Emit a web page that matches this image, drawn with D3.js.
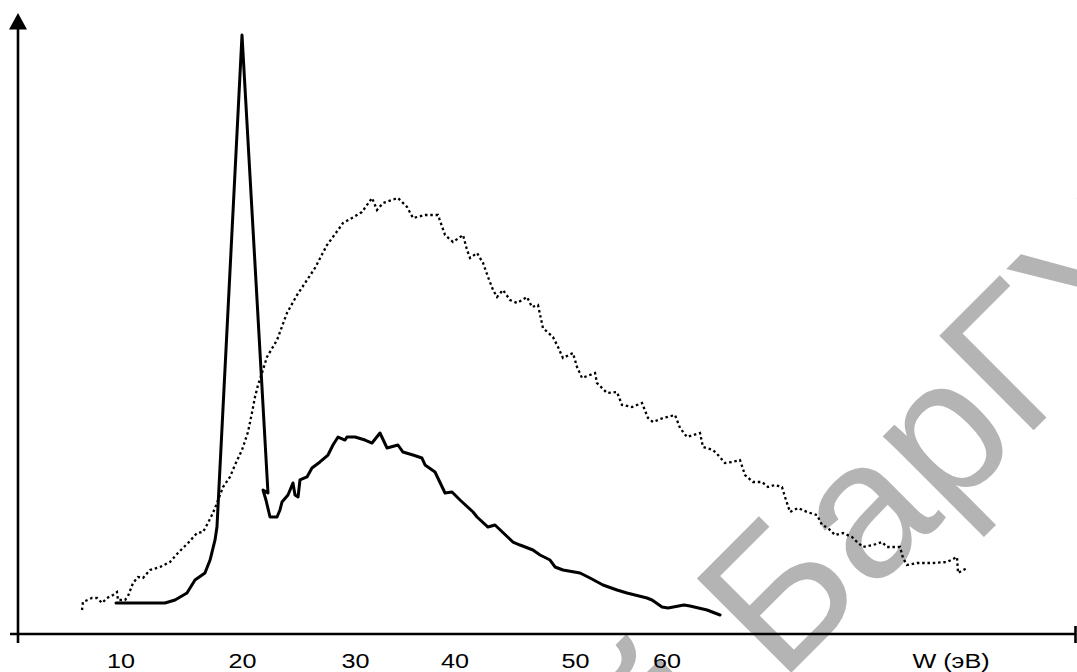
<!DOCTYPE html>
<html>
<head>
<meta charset="utf-8">
<script src="https://cdn.jsdelivr.net/npm/d3@7"></script>
<style>
  body { margin: 0; background: #fff; }
  svg { display: block; }
</style>
</head>
<body>
<div id="chart"></div>
<script>
// tick labels on the energy axis
const tickValues = [10, 20, 30, 40, 50, 60];
const axisTitle = "W (эВ)";
const watermark = ["Репозиторий\u00A0", "БарГУ"];

// solid curve: energy (eV), intensity (arb. units)
const solidW = [9.63, 13.66, 14.49, 15.47, 16.13, 16.95, 17.37, 17.78, 17.94, 20.0,
  22.30, 21.86, 22.12, 22.48, 23.10, 23.36, 23.54, 24.07, 24.51, 24.69,
  24.96, 25.13, 25.75, 26.19, 26.90, 27.61, 28.05, 28.50, 29.12, 29.29,
  30.0, 31.01, 31.71, 32.51, 33.22, 34.32, 34.82, 35.83, 36.73, 37.04,
  38.04, 39.05, 39.75, 40.46, 41.54, 41.87, 42.78, 43.36, 44.85, 45.44,
  46.51, 47.10, 47.93, 48.34, 49.00, 50.55, 51.64, 53.06, 54.59, 55.68,
  57.87, 58.42, 59.51, 60.16, 61.91, 62.57, 64.43, 65.85];
const solidI = [5.17, 5.17, 5.67, 6.83, 9.0, 10.17, 12.33, 15.67, 17.83, 99.83,
  23.5, 24.0, 22.33, 19.5, 19.5, 20.67, 22.0, 23.17, 25.17, 23.17,
  22.83, 25.67, 26.17, 27.67, 28.67, 29.83, 31.5, 32.83, 32.33, 32.83,
  32.83, 32.33, 31.83, 33.5, 31.0, 31.5, 30.33, 29.83, 29.33, 28.17,
  27.0, 23.5, 23.67, 22.33, 20.33, 19.5, 17.83, 18.17, 15.33, 14.83,
  14.0, 13.17, 12.33, 11.17, 10.67, 10.17, 9.33, 8.17, 7.33, 6.83,
  6.0, 5.67, 4.5, 4.33, 4.83, 4.67, 4.0, 3.17];

// dotted curve: energy (eV), intensity (arb. units)
const dottedW = [6.83, 6.91, 7.65, 8.07, 8.48, 8.89, 9.38, 9.71, 9.79, 10.37,
  10.62, 11.03, 11.44, 11.85, 12.43, 13.25, 14.07, 14.73, 15.56, 16.30,
  16.79, 17.20, 17.61, 17.94, 18.44, 19.01, 19.42, 20.0, 20.53, 20.88,
  21.15, 21.42, 21.77, 22.21, 23.10, 23.98, 24.87, 25.58, 26.46, 27.52,
  28.50, 28.94, 29.73, 30.70, 31.71, 32.21, 32.81, 34.32, 35.23, 35.83,
  37.04, 38.34, 39.05, 39.85, 40.71, 41.04, 41.29, 41.87, 42.37, 42.78,
  43.20, 43.53, 44.02, 44.61, 45.19, 46.02, 46.43, 46.93, 47.34, 48.17,
  48.59, 49.00, 49.83, 50.22, 50.77, 52.19, 52.40, 53.50, 54.59, 55.14,
  56.23, 57.32, 57.98, 58.52, 59.62, 60.93, 61.48, 62.24, 63.66, 63.99,
  65.08, 65.63, 66.39, 67.16, 68.03, 68.58, 69.45, 70.44, 71.09, 71.86,
  72.62, 72.95, 73.50, 74.37, 75.36, 76.45, 77.0, 77.65, 78.42, 79.29,
  80.27, 80.82, 81.48, 82.57, 83.55, 84.10, 85.52, 85.85, 86.28, 87.38,
  89.13, 90.66, 91.75, 91.86, 92.84];
const dottedI = [4.0, 5.33, 6.0, 6.0, 5.17, 6.0, 6.5, 7.0, 5.67, 5.67,
  6.33, 8.5, 9.5, 9.33, 10.67, 11.17, 12.0, 13.5, 15.17, 16.83,
  17.0, 18.5, 20.17, 21.83, 24.5, 26.17, 28.17, 30.67, 33.67, 36.83,
  39.5, 41.5, 43.5, 46.17, 49.0, 53.5, 56.5, 58.5, 61.0, 64.83,
  67.33, 68.5, 69.33, 70.33, 72.67, 70.67, 71.83, 72.67, 71.17, 69.33,
  69.83, 69.83, 66.5, 65.33, 66.5, 64.0, 62.67, 63.5, 61.83, 59.5,
  57.33, 56.17, 57.33, 55.67, 55.17, 56.17, 54.5, 54.83, 51.0, 49.5,
  47.83, 46.0, 46.83, 44.5, 42.67, 43.5, 41.83, 40.17, 40.33, 38.17,
  37.83, 38.5, 36.0, 35.33, 36.0, 36.5, 34.33, 32.83, 33.5, 31.17,
  30.67, 29.83, 28.5, 28.67, 29.0, 26.5, 25.33, 25.33, 24.5, 24.83,
  24.5, 22.83, 20.33, 21.0, 20.33, 19.83, 18.17, 17.67, 16.5, 16.83,
  16.17, 15.33, 14.5, 14.83, 15.33, 14.5, 14.5, 12.67, 11.5, 11.83,
  11.83, 12.0, 12.83, 10.17, 11.0];

// layout
const width = 1077, height = 672;
const tickPos = [120.5, 242, 355, 454.5, 575, 666.5];
const axisX = 18, axisY = 634;
const font = "'Liberation Sans', Arial, sans-serif";

const svg = d3.select("#chart").append("svg")
  .attr("width", width)
  .attr("height", height);

svg.append("rect").attr("width", width).attr("height", height).attr("fill", "#fff");

// watermark behind the chart
const wm = svg.append("g")
  .attr("transform", "translate(780,684) rotate(-45)")
  .style("font-family", font)
  .style("font-size", "194px")
  .attr("fill", "#b4b4b4");
wm.append("text").attr("text-anchor", "end").text(watermark[0]);
wm.append("text").attr("text-anchor", "start").text(watermark[1]);

const x = d3.scaleLinear().domain(tickValues).range(tickPos);
const y = d3.scaleLinear().domain([0, 100]).range([axisY, 34]);

// axes lines
svg.append("line")
  .attr("x1", 10).attr("x2", width - 1)
  .attr("y1", axisY).attr("y2", axisY)
  .attr("stroke", "#000").attr("stroke-width", 2.6);
svg.append("line")
  .attr("x1", width - 1.5).attr("x2", width - 1.5)
  .attr("y1", axisY - 8).attr("y2", axisY + 9)
  .attr("stroke", "#000").attr("stroke-width", 2.6);
svg.append("line")
  .attr("x1", axisX).attr("x2", axisX)
  .attr("y1", axisY + 9).attr("y2", 28)
  .attr("stroke", "#000").attr("stroke-width", 2.6);
svg.append("path")
  .attr("d", `M${axisX},13 L${axisX - 9},29.5 L${axisX + 9},29.5 Z`)
  .attr("fill", "#000");

// tick labels
const xAxis = svg.append("g")
  .attr("transform", `translate(0,${axisY})`)
  .call(d3.axisBottom(x).tickValues(tickValues).tickSize(0).tickFormat(d3.format("d")));
xAxis.select(".domain").remove();
xAxis.selectAll("text")
  .attr("y", 34)
  .attr("dy", null)
  .attr("transform", "scale(1.2,1)")
  .attr("fill", "#000")
  .style("font-family", font)
  .style("font-size", "21px");

svg.append("text")
  .attr("transform", `translate(951,${axisY + 34}) scale(1.2,1)`)
  .attr("text-anchor", "middle")
  .style("font-family", font)
  .style("font-size", "21px")
  .text(axisTitle);

// curves
const line = d3.line()
  .x(d => x(d[0]))
  .y(d => y(d[1]));

svg.append("path")
  .datum(d3.zip(dottedW, dottedI))
  .attr("d", line)
  .attr("fill", "none")
  .attr("stroke", "#000")
  .attr("stroke-width", 2.3)
  .attr("stroke-dasharray", "2.5,2.8");

svg.append("path")
  .datum(d3.zip(solidW, solidI))
  .attr("d", line)
  .attr("fill", "none")
  .attr("stroke", "#000")
  .attr("stroke-width", 3)
  .attr("stroke-linejoin", "round")
  .attr("stroke-linecap", "round");
</script>
</body>
</html>
